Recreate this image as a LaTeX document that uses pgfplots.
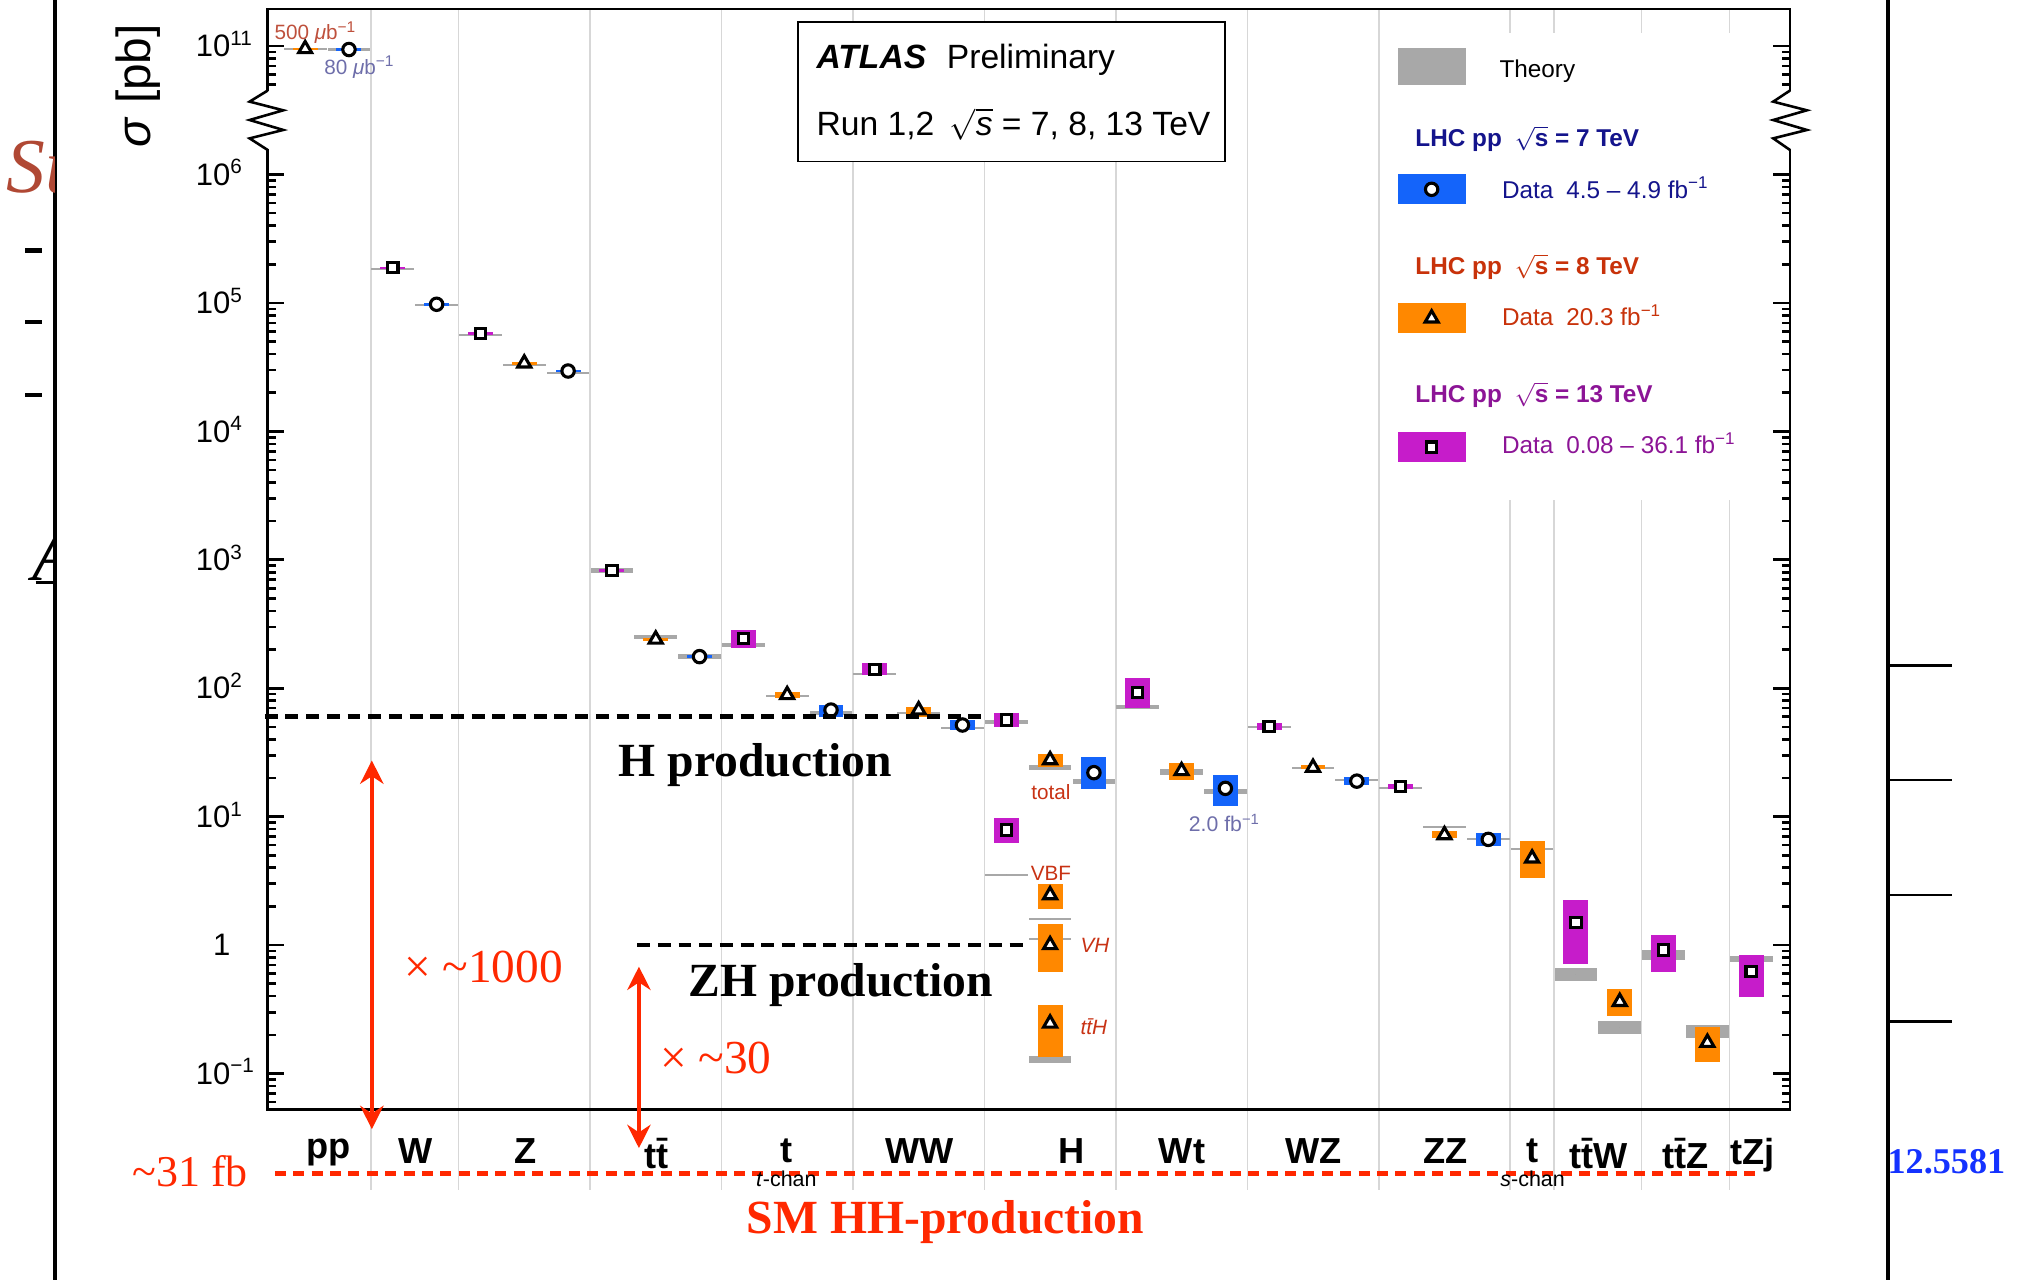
\documentclass[border=0pt]{standalone}
\usepackage{pgfplots}
\pgfplotsset{compat=1.18}
\usepackage{pgfplotstable}
\usepackage{fontspec}
\setmainfont{Liberation Sans}
\newfontfamily\timesf{Liberation Serif}
\usetikzlibrary{arrows.meta}
\definecolor{cS}{RGB}{20,100,250}
\definecolor{cE}{RGB}{255,136,0}
\definecolor{cT}{RGB}{198,28,202}
\definecolor{gryT}{RGB}{168,168,168}
\definecolor{gridc}{RGB}{215,215,215}
\definecolor{hS}{RGB}{20,20,140}
\definecolor{hE}{RGB}{200,50,10}
\definecolor{hT}{RGB}{140,20,150}
\definecolor{hhred}{RGB}{255,40,0}
\definecolor{lumiE}{RGB}{190,80,60}
\definecolor{lumiS}{RGB}{110,110,170}
\definecolor{hlab}{RGB}{200,50,20}
\definecolor{sred}{RGB}{176,72,52}
\definecolor{numblue}{RGB}{20,50,255}
\newcommand\fs[1]{\fontsize{#1}{#1}\selectfont}
\newcommand\sq[1]{10\rlap{\smash{\textsuperscript{#1}}}}

% measured cross sections [pb]: x slot, value, lower and upper edge of the data box
\pgfplotstableread{
x y lo hi
2.5 1.881e5 1.84e5 1.92e5
4.5 5.80e4 5.67e4 5.93e4
7.5 823 805 841
10.5 244.8 204.3 284.6
13.5 140.4 126.7 156.2
16.5 56.6 50.2 63.8
16.5 7.88 6.20 9.71
19.5 92.9 69.7 119.3
22.5 50.2 47.3 53.2
25.5 17.1 16.3 17.9
29.5 1.494 0.7128 2.241
31.5 0.9158 0.620 1.196
33.5 0.620 0.3918 0.8366
}\dT
\pgfplotstableread{
x y lo hi
5.5 3.39e4 3.31e4 3.47e4
8.5 240.3 235 246
11.5 88.7 83.5 93.97
14.5 67.6 60.2 71.8
17.5 27.6 24.5 30.7
17.5 2.454 1.901 2.974
17.5 1.0025 0.620 1.449
17.5 0.2459 0.1351 0.3419
20.5 22.7 19.3 26.0
23.5 24.1 23.3 25.2
26.5 7.20 6.87 7.73
28.5 4.74 3.31 6.47
30.5 0.3622 0.2807 0.4514
32.5 0.174 0.1238 0.2288
}\dE
\pgfplotstableread{
x y lo hi
3.5 9.76e4 9.54e4 9.99e4
6.5 2.95e4 2.88e4 3.02e4
9.5 176.2 172 180.5
12.5 67.6 60.2 74.2
15.5 51.7 47.3 56.2
18.5 22.0 16.3 29.0
21.5 16.6 12.1 21.1
24.5 18.9 17.6 20.5
27.5 6.65 5.95 7.42
}\dS
% pp (shown above the axis break)
\pgfplotstableread{
x y lo hi
0.5 9.5e10 9.3e10 9.7e10
}\ppE
\pgfplotstableread{
x y lo hi
1.5 9.4e10 9.2e10 9.6e10
}\ppS
% theory bands [pb]
\pgfplotstableread{
x lo hi
2.5 1.81e5 1.87e5
4.5 5.49e4 5.69e4
7.5 787 861
10.5 209.7 224.8
13.5 125.8 130.6
16.5 53.0 56.8
16.5 3.45 3.59
19.5 69.3 74.3
22.5 48.6 50.4
25.5 16.5 17.1
29.5 0.525 0.6665
31.5 0.7606 0.9096
33.5 0.7432 0.8212
}\tT
\pgfplotstableread{
x lo hi
5.5 3.21e4 3.33e4
8.5 243.6 260.9
11.5 85.9 89.1
14.5 63.3 65.7
17.5 23.1 25.2
17.5 1.557 1.617
17.5 1.102 1.144
17.5 0.1204 0.1367
20.5 21.2 23.3
23.5 23.65 24.55
26.5 8.10 8.41
28.5 5.47 5.73
30.5 0.2019 0.2581
32.5 0.1879 0.2385
}\tE
\pgfplotstableread{
x lo hi
3.5 9.52e4 9.88e4
6.5 2.78e4 2.88e4
9.5 169 183.7
12.5 62.3 66.8
15.5 47.9 49.7
18.5 18.0 19.8
21.5 14.9 16.4
24.5 18.95 19.65
27.5 6.61 6.87
}\tS
\pgfplotstableread{
x lo hi
0.5 9.32e10 9.68e10
1.5 9.22e10 9.58e10
}\tpp

\pgfplotsset{
  thbar/.style={only marks, mark=*, mark size=0pt, mark options={draw=none, fill=none}, forget plot,
     error bars/.cd, y dir=both, y explicit, error mark=none,
     error bar style={line width=16.5pt, draw=gryT}},
  dbox/.style={only marks, mark=*, mark size=0pt, mark options={draw=none, fill=none}, forget plot,
     error bars/.cd, y dir=both, y explicit, error mark=none,
     error bar style={line width=9.65pt, draw=#1}},
  mk/.style={only marks, forget plot, mark options={fill=white, draw=black, line width=1.2pt, solid}},
}

\begin{document}
\begin{tikzpicture}
\useasboundingbox (0,0) rectangle (784pt,495pt);
\begin{scope}[x=0.5pt,y=-0.5pt,shift={(0pt,495pt)}]
 \foreach \X in {286.76,354.52,456.16,557.8,659.44,761.08,862.72,964.36,1066,1167.64,1201.52,1269.28,1337.04}
   \draw[gridc, line width=0.6pt] (\X,7) -- (\X,920);
 \fill[white] (1070,25.5) rectangle (1382,386.6);
 \draw[line width=0.6pt, fill=white] (617,17) rectangle (947,125);
 \node[anchor=base west, inner sep=0pt, font=\fs{13}] at (631,52.8) {\textbf{\textit{ATLAS}}\hspace{8pt}Preliminary};
 \node[anchor=base west, inner sep=0pt, font=\fs{13}] at (631,104.4) {Run 1,2\hspace{6pt}$\sqrt{\mbox{\itshape s}}$ = 7, 8, 13 TeV};
 % legend texts
 \node[anchor=base west, inner sep=0pt, font=\fs{9.4}] at (1159,59.8) {Theory};
 \node[anchor=base west, inner sep=0pt, font=\bfseries\fs{9.4}, text=hS] at (1094,113.4) {LHC pp\hspace{5pt}$\sqrt{\mbox{\bfseries s}}$ = 7 TeV};
 \node[anchor=base west, inner sep=0pt, font=\fs{9.4}, text=hS] at (1161,153.3) {Data\hspace{5pt}4.5 – 4.9 fb\textsuperscript{−1}};
 \node[anchor=base west, inner sep=0pt, font=\bfseries\fs{9.4}, text=hE] at (1094,212.1) {LHC pp\hspace{5pt}$\sqrt{\mbox{\bfseries s}}$ = 8 TeV};
 \node[anchor=base west, inner sep=0pt, font=\fs{9.4}, text=hE] at (1161,252) {Data\hspace{5pt}20.3 fb\textsuperscript{−1}};
 \node[anchor=base west, inner sep=0pt, font=\bfseries\fs{9.4}, text=hT] at (1094,311.3) {LHC pp\hspace{5pt}$\sqrt{\mbox{\bfseries s}}$ = 13 TeV};
 \node[anchor=base west, inner sep=0pt, font=\fs{9.4}, text=hT] at (1161,351) {Data\hspace{5pt}0.08 – 36.1 fb\textsuperscript{−1}};
\end{scope}

\begin{axis}[
  at={(103.5pt,66pt)}, anchor=south west,
  scale only axis, width=588.5pt, height=425.5pt,
  xmin=-0.3542, xmax=34.386, ymin=-1.282, ymax=7.2884,
  axis line style={line width=1pt},
  tick align=inside, ytick pos=both,
  tick style={line width=1pt, black},
  major tick length=6.4pt, minor tick length=3.3pt,
  xtick={1.03,3.02,5.53,8.52,11.48,14.52,18.0,20.51,23.52,26.53,28.51,30.02,32.0,33.53},
  xticklabels={pp,W,Z,t\=t,t,WW,H,Wt,WZ,ZZ,t,t\=tW,t\=tZ,tZj},
  xtick style={draw=none},
  xticklabel style={anchor=north, inner sep=0pt, yshift=-11pt, font=\bfseries\fs{14}},
  ytick={-1,0,1,2,3,4,5,6,7},
  yticklabels={\sq{−1},1,\sq{1},\sq{2},\sq{3},\sq{4},\sq{5},\sq{6},\sq{11}},
  minor ytick={-1.22185,-1.1549,-1.09691,-1.04576,
    -0.69897,-0.52288,-0.39794,-0.30103,-0.22185,-0.1549,-0.09691,-0.04576,
    0.30103,0.47712,0.60206,0.69897,0.77815,0.8451,0.90309,0.95424,
    1.30103,1.47712,1.60206,1.69897,1.77815,1.8451,1.90309,1.95424,
    2.30103,2.47712,2.60206,2.69897,2.77815,2.8451,2.90309,2.95424,
    3.30103,3.47712,3.60206,3.69897,3.77815,3.8451,3.90309,3.95424,
    4.30103,4.47712,4.60206,4.69897,4.77815,4.8451,4.90309,4.95424,
    5.30103,5.47712,5.60206,5.69897,5.77815,5.8451,5.90309,5.95424,
    6.69897,6.77815,6.8451,6.90309,6.95424},
  yticklabel style={anchor=east, inner sep=0pt, xshift=-14.25pt, font=\fs{12}},
  legend cell align=left,
  legend style={at={(0.7422,0.9650)}, anchor=north west, draw=none, fill=none,
     inner sep=0pt, outer sep=0pt, column sep=0pt, row sep=34.6pt,
     nodes={inner sep=0pt, outer sep=0pt}, font=\fs{9.4}},
]
% theory bands
\addplot[thbar] table[x=x, y expr={0.5*(ln(\thisrow{lo})+ln(\thisrow{hi}))/ln(10)-4},
   y error expr={0.5*(ln(\thisrow{hi})-ln(\thisrow{lo}))/ln(10)}] {\tpp};
\addplot[thbar] table[x=x, y expr={0.5*(ln(\thisrow{lo})+ln(\thisrow{hi}))/ln(10)},
   y error expr={0.5*(ln(\thisrow{hi})-ln(\thisrow{lo}))/ln(10)}] {\tT};
\addplot[thbar] table[x=x, y expr={0.5*(ln(\thisrow{lo})+ln(\thisrow{hi}))/ln(10)},
   y error expr={0.5*(ln(\thisrow{hi})-ln(\thisrow{lo}))/ln(10)}] {\tE};
\addplot[thbar] table[x=x, y expr={0.5*(ln(\thisrow{lo})+ln(\thisrow{hi}))/ln(10)},
   y error expr={0.5*(ln(\thisrow{hi})-ln(\thisrow{lo}))/ln(10)}] {\tS};
% data boxes
\addplot[dbox=cE] table[x=x, y expr={ln(\thisrow{y})/ln(10)-4},
   y error plus expr={(ln(\thisrow{hi})-ln(\thisrow{y}))/ln(10)},
   y error minus expr={(ln(\thisrow{y})-ln(\thisrow{lo}))/ln(10)}] {\ppE};
\addplot[dbox=cS] table[x=x, y expr={ln(\thisrow{y})/ln(10)-4},
   y error plus expr={(ln(\thisrow{hi})-ln(\thisrow{y}))/ln(10)},
   y error minus expr={(ln(\thisrow{y})-ln(\thisrow{lo}))/ln(10)}] {\ppS};
\addplot[dbox=cT] table[x=x, y expr={ln(\thisrow{y})/ln(10)},
   y error plus expr={(ln(\thisrow{hi})-ln(\thisrow{y}))/ln(10)},
   y error minus expr={(ln(\thisrow{y})-ln(\thisrow{lo}))/ln(10)}] {\dT};
\addplot[dbox=cE] table[x=x, y expr={ln(\thisrow{y})/ln(10)},
   y error plus expr={(ln(\thisrow{hi})-ln(\thisrow{y}))/ln(10)},
   y error minus expr={(ln(\thisrow{y})-ln(\thisrow{lo}))/ln(10)}] {\dE};
\addplot[dbox=cS] table[x=x, y expr={ln(\thisrow{y})/ln(10)},
   y error plus expr={(ln(\thisrow{hi})-ln(\thisrow{y}))/ln(10)},
   y error minus expr={(ln(\thisrow{y})-ln(\thisrow{lo}))/ln(10)}] {\dS};
% markers
\addplot[mk, mark=triangle*, mark size=2.9pt] table[x=x, y expr={ln(\thisrow{y})/ln(10)-4}] {\ppE};
\addplot[mk, mark=*, mark size=2.4pt] table[x=x, y expr={ln(\thisrow{y})/ln(10)-4}] {\ppS};
\addplot[mk, mark=square*, mark size=2.0pt] table[x=x, y expr={ln(\thisrow{y})/ln(10)}] {\dT};
\addplot[mk, mark=triangle*, mark size=2.9pt] table[x=x, y expr={ln(\thisrow{y})/ln(10)}] {\dE};
\addplot[mk, mark=*, mark size=2.4pt] table[x=x, y expr={ln(\thisrow{y})/ln(10)}] {\dS};
% legend swatches (texts are set as nodes above)
\addlegendimage{legend image code/.code={\fill[gryT] (0pt,-7pt) rectangle (25.95pt,7pt);}}
\addlegendentry{\mbox{}}
\addlegendimage{legend image code/.code={\path[draw=none, fill=none] (0pt,-9.45pt) -- (0pt,0pt);
   \fill[cS] (0pt,-5.6pt) rectangle (25.95pt,5.6pt);
   \draw[black] plot[mark=*, mark size=2.4pt, mark options={fill=white, draw=black, line width=1.2pt}] coordinates {(12.97pt,0pt)};}}
\addlegendentry{\mbox{}}
\addlegendimage{legend image code/.code={\path[draw=none, fill=none] (0pt,-9.45pt) -- (0pt,0pt);
   \fill[cE] (0pt,-5.6pt) rectangle (25.95pt,5.6pt);
   \draw[black] plot[mark=triangle*, mark size=2.9pt, mark options={fill=white, draw=black, line width=1.2pt}] coordinates {(12.97pt,0pt)};}}
\addlegendentry{\mbox{}}
\addlegendimage{legend image code/.code={\path[draw=none, fill=none] (0pt,-9.45pt) -- (0pt,0pt);
   \fill[cT] (0pt,-5.6pt) rectangle (25.95pt,5.6pt);
   \draw[black] plot[mark=square*, mark size=2.0pt, mark options={fill=white, draw=black, line width=1.2pt}] coordinates {(12.97pt,0pt)};}}
\addlegendentry{\mbox{}}
\end{axis}

\begin{scope}[x=0.5pt,y=-0.5pt,shift={(0pt,495pt)}]
 % axis break
 \fill[white] (203,70.5) rectangle (211,115.5);
 \fill[white] (1380,70.5) rectangle (1388,115.5);
 \draw[line width=1pt] (207,70) -- (193,78.6) -- (219,85.3) -- (193,92.8) -- (219,100.5) -- (193,107) -- (207,116);
 \draw[line width=1pt] (1384,70) -- (1371,78.6) -- (1397,85.3) -- (1371,92.8) -- (1397,100.5) -- (1371,107) -- (1384,116);
 % y label
 \node[rotate=90, inner sep=0pt, font=\fs{18.5}] at (107,66.4) {\textit{σ} [pb]};
 % small labels
 \node[text=lumiE, inner sep=0pt, font=\fs{8}] at (244,25) {500 \textit{μ}b\textsuperscript{−1}};
 \node[text=lumiS, inner sep=0pt, font=\fs{8}] at (278,52) {80 \textit{μ}b\textsuperscript{−1}};
 \node[text=hlab, inner sep=0pt, font=\fs{8}] at (812.6,612.7) {total};
 \node[text=hlab, inner sep=0pt, font=\fs{8}] at (812.5,675) {VBF};
 \node[text=hlab, inner sep=0pt, font=\itshape\fs{8}] at (846.6,730.6) {VH};
 \node[text=hlab, inner sep=0pt, font=\itshape\fs{8}] at (845.7,793.8) {t\=tH};
 \node[text=lumiS, inner sep=0pt, font=\fs{8.2}] at (946.8,636.5) {2.0 fb\textsuperscript{−1}};
 % overlays
 \draw[black, line width=1.7pt, dash pattern=on 5pt off 3pt] (204.7,554.1) -- (758.5,554.1);
 \draw[black, line width=1.8pt, dash pattern=on 5pt off 3pt] (492.6,730.6) -- (791.2,730.6);
 \node[anchor=base west, inner sep=0pt, font=\timesf\bfseries\fs{18.4}] at (478,600.5) {H production};
 \node[anchor=base west, inner sep=0pt, font=\timesf\bfseries\fs{18.4}] at (532,770.6) {ZH production};
 \draw[hhred, line width=1.8pt, dash pattern=on 4.25pt off 2.85pt] (212.6,907.2) -- (1359,907.2);
 \draw[hhred, line width=1.8pt, {Stealth[length=9pt,width=9pt]}-{Stealth[length=9pt,width=9pt]}] (287.5,873) -- (287.5,588);
 \draw[hhred, line width=1.8pt, {Stealth[length=9pt,width=9pt]}-{Stealth[length=9pt,width=9pt]}] (494,887.7) -- (494,747.4);
 \node[anchor=base west, inner sep=0pt, text=hhred, font=\timesf\fs{18.3}] at (312,760) {× \textasciitilde1000};
 \node[anchor=base west, inner sep=0pt, text=hhred, font=\timesf\fs{18.3}] at (510,829.7) {× \textasciitilde30};
 \node[anchor=base east, inner sep=0pt, text=hhred, font=\timesf\fs{17}] at (192,917.5) {\textasciitilde31 fb};
 \node[anchor=base, inner sep=0pt, text=hhred, font=\timesf\bfseries\fs{18.4}] at (731,953.5) {SM HH-production};
 \node[inner sep=0pt, font=\fs{8.3}] at (608,911.5) {\textit{t}-chan};
 \node[inner sep=0pt, font=\fs{8.3}] at (1185,911.5) {\textit{s}-chan};
 % slide leftovers
 \draw[line width=1.2pt] (42.5,0) -- (42.5,990);
 \draw[line width=1.2pt] (1459.7,0) -- (1459.7,990);
 \foreach \Y in {514.7,603,692,790} \draw[line width=1pt] (1459.7,\Y) -- (1509,\Y);
 \fill (19,192) rectangle (32.8,195.3);
 \fill (19,247.4) rectangle (32.8,250.7);
 \fill (19,303.6) rectangle (32.8,306.9);
 \begin{scope}
  \clip (0,0) rectangle (41.8,990);
  \node[anchor=base west, inner sep=0pt, text=sred, font=\timesf\itshape\fs{30}] at (5,148.5) {Su};
  \node[anchor=base west, inner sep=0pt, font=\timesf\itshape\fs{29}] at (25,449) {A};
  \draw[line width=1pt] (27.6,450.5) -- (42.5,450.5);
 \end{scope}
 \node[anchor=base west, inner sep=0pt, text=numblue, font=\timesf\bfseries\fs{14}] at (1459,907) {12.5581};
\end{scope}
\end{tikzpicture}
\end{document}
